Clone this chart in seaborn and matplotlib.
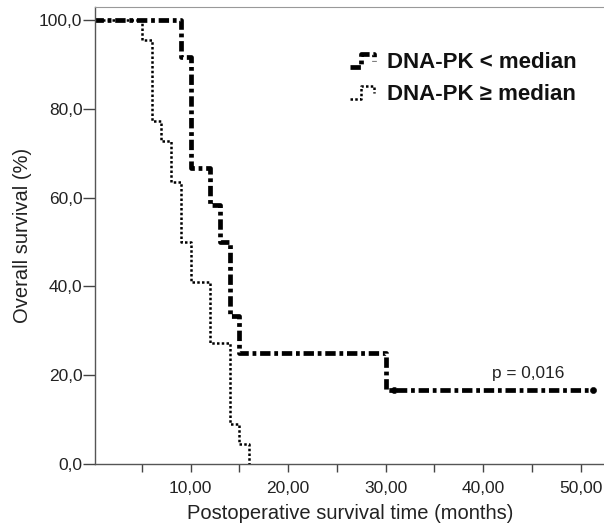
import matplotlib
matplotlib.use('Agg')
import matplotlib.pyplot as plt
import seaborn as sns
import pandas as pd
from matplotlib.lines import Line2D
from matplotlib.legend_handler import HandlerLine2D
from matplotlib.ticker import FixedLocator, FuncFormatter

# Kaplan-Meier step data
low_time = [0, 9, 10, 12, 13, 14, 15, 30, 51.3]
low_surv = [100, 91.7, 66.7, 58.3, 50.0, 33.3, 25.0, 16.7, 16.7]
high_time = [0, 5, 6, 7, 8, 9, 10, 12, 14, 15, 16]
high_surv = [100, 95.5, 77.3, 72.7, 63.6, 50.0, 40.9, 27.3, 9.1, 4.5, 0.0]
censor_time = [30.9, 51.3]
censor_surv = [16.7, 16.7]

group_labels = ['DNA-PK < median', 'DNA-PK \u2265 median']
p_text = 'p = 0,016'


class StepHandler(HandlerLine2D):
    """Draw a small step icon in the legend, like the SPSS survival plot."""
    def create_artists(self, legend, orig_handle, xdescent, ydescent,
                       width, height, fontsize, trans):
        w, h = width, height
        xs = [-xdescent, -xdescent + 0.45 * w, -xdescent + 0.45 * w, -xdescent + w, -xdescent + w]
        ys = [-ydescent + 0.1 * h, -ydescent + 0.1 * h, -ydescent + 0.9 * h,
              -ydescent + 0.9 * h, -ydescent + 0.45 * h]
        line = Line2D(xs, ys)
        self.update_prop(line, orig_handle, legend)
        line.set_transform(trans)
        return [line]


sns.set_style('white')
plt.rcParams['font.family'] = ['Liberation Sans', 'DejaVu Sans']

fig = plt.figure(figsize=(6.04, 5.29), dpi=100)
ax = fig.add_axes([95 / 604, 0.1229, 510 / 604, 0.8639])

low_df = pd.DataFrame({'time': low_time, 'surv': low_surv})
high_df = pd.DataFrame({'time': high_time, 'surv': high_surv})

sns.lineplot(data=low_df, x='time', y='surv', ax=ax, estimator=None, sort=False,
             drawstyle='steps-post', color='black', linewidth=3.4, legend=False)
sns.lineplot(data=high_df, x='time', y='surv', ax=ax, estimator=None, sort=False,
             drawstyle='steps-post', color='black', linewidth=1.8, legend=False)
lines = ax.get_lines()
low_dash = (2.2, 0.8, 0.8, 0.8)
high_dash = (1, 0.9)
lines[0].set_dashes(low_dash)
lines[1].set_dashes(high_dash)

sns.scatterplot(x=censor_time, y=censor_surv, ax=ax, color='black', s=20,
                edgecolor='black', zorder=5, legend=False)

ax.text(40.9, 19.3, p_text, fontsize=12.4, color='#222222')

ax.set_xlim(0.2, 52.5)
ax.set_ylim(0, 102.9)
ax.xaxis.set_major_locator(FixedLocator([5, 10, 15, 20, 25, 30, 35, 40, 45, 50]))
ax.xaxis.set_major_formatter(FuncFormatter(
    lambda v, pos: f'{v:.2f}'.replace('.', ',') if v % 10 == 0 else ''))
ax.yaxis.set_major_locator(FixedLocator([0, 20, 40, 60, 80, 100]))
ax.yaxis.set_major_formatter(FuncFormatter(lambda v, pos: f'{v:.1f}'.replace('.', ',')))
ax.tick_params(axis='both', which='major', direction='out', width=1,
               color='#444444', labelsize=12.5, labelcolor='#222222',
               bottom=True, left=True)
ax.tick_params(axis='y', length=8.5, pad=0.5)
ax.tick_params(axis='x', length=6, pad=6)

ax.set_xlabel('Postoperative survival time (months)', fontsize=14.5, color='#222222', labelpad=6)
ax.set_ylabel('Overall survival (%)', fontsize=14.5, color='#222222', labelpad=5)

for side in ['left', 'bottom']:
    ax.spines[side].set_color('#555555')
    ax.spines[side].set_linewidth(1)
ax.spines['top'].set_color('#999999')
ax.spines['right'].set_visible(False)

h_low = Line2D([], [], color='black', linewidth=3.4, dashes=low_dash)
h_high = Line2D([], [], color='black', linewidth=1.8, dashes=high_dash)
leg = ax.legend([h_low, h_high], group_labels, loc='upper right',
                bbox_to_anchor=(0.983, 0.945), frameon=False,
                handler_map={Line2D: StepHandler()},
                handlelength=1.1, handleheight=0.75, handletextpad=0.55, labelspacing=0.5,
                prop={'size': 16, 'weight': 'bold'})
for t in leg.get_texts():
    t.set_color('#111111')

fig.savefig('out.png', dpi=100)
